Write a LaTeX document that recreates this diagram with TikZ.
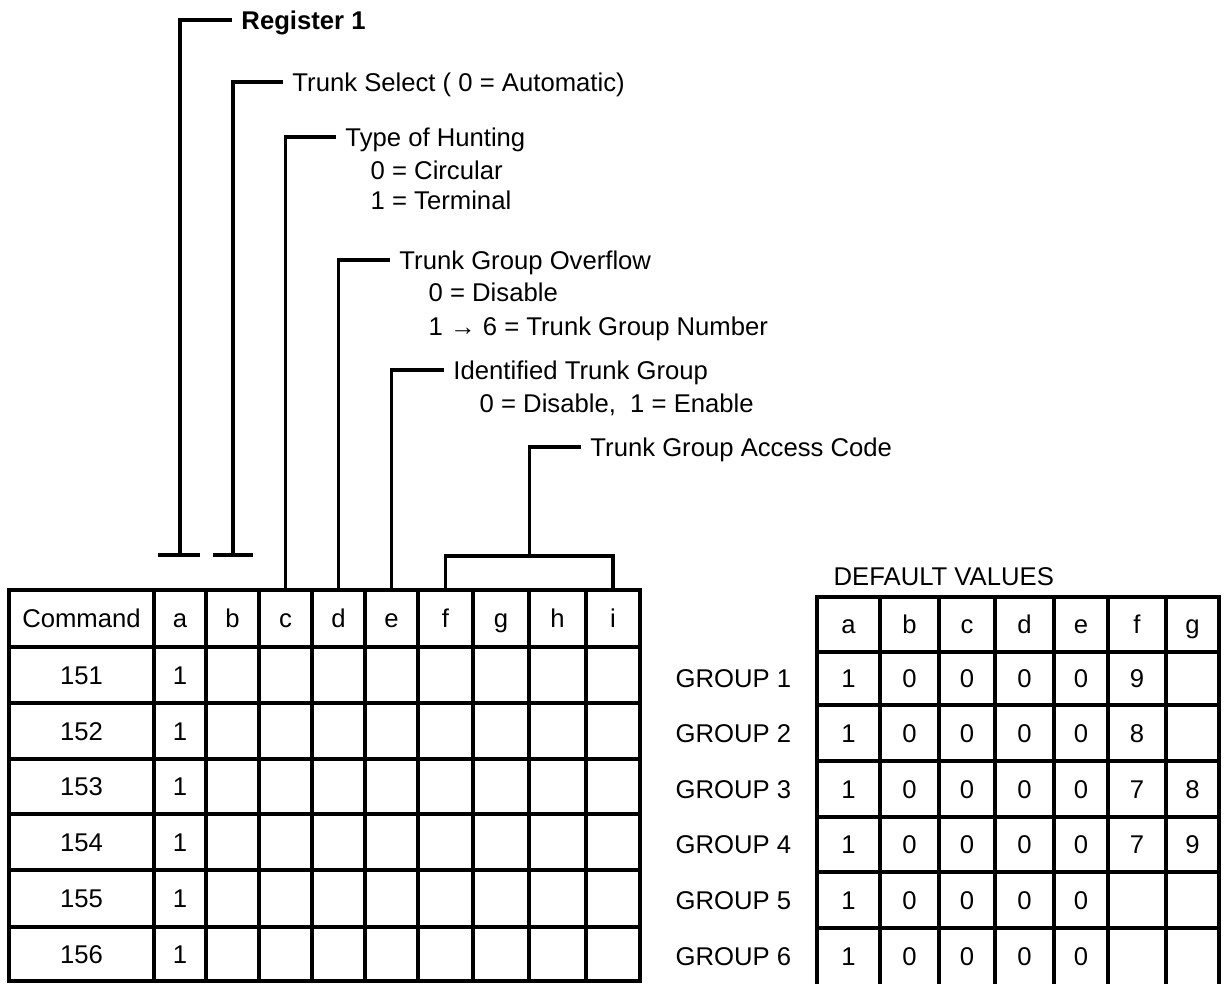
\documentclass[tikz,border=0pt]{standalone}
\usepackage{fontspec}
\setmainfont{Liberation Sans}
\usetikzlibrary{calc, positioning}
\tikzstyle{wire} = [line width=0.9pt]
\tikzstyle{note} = [anchor=west, inner sep=2.5pt, text height=5.2pt, text depth=0pt, font=\fontsize{7.3}{8.8}\selectfont]
\tikzstyle{subnote} = [anchor=west, inner sep=0pt, text height=5.2pt, text depth=0pt, font=\fontsize{7.3}{8.8}\selectfont]
\tikzstyle{cell} = [inner sep=0pt, text height=5.2pt, text depth=0pt, font=\fontsize{7.3}{8.8}\selectfont]

\begin{document}
\begin{tikzpicture}[x=0.01cm, y=-0.01cm]
  \useasboundingbox (0,0) rectangle (1229,984);

  % command table
  \draw[wire] (9,590) rectangle (640,981);
  \foreach \x in {154,206,259,312,365,418,473,529,586}
    \draw[wire] (\x,590) -- (\x,981);
  \foreach \y in {647,703,759,814,870,927}
    \draw[wire] (9,\y) -- (640,\y);
  \node (cmd) [cell] at (81.5,618.5) {Command};
  \foreach \c/\x in {a/180,b/232.5,c/285.5,d/338.5,e/391.5,f/445.5,g/501,h/557.5,i/613}
    \node (hd\c) [cell] at (\x,618.5) {\c};
  \foreach \n/\y in {151/675,152/731,153/786.5,154/842,155/898.5,156/954} {
    \node (cmd\n) [cell] at (81.5,\y) {\n};
    \node (reg\n) [cell] at (180,\y) {1};
  }

  % callouts
  \coordinate (bara) at (180,555);
  \coordinate (barb) at (233,555);
  \coordinate (topc) at (285.5,590);
  \coordinate (topd) at (338.5,590);
  \coordinate (tope) at (391.5,590);
  \coordinate (topf) at (445.5,590);
  \coordinate (topi) at (613,590);
  \coordinate (brace) at ($(topf)!0.5!(topi)+(0,-34)$);

  \node (reg) [note] at (232,20) {\bfseries Register 1};
  \node (sel) [note] at (283,82) {Trunk Select ( 0 = Automatic)};
  \node (hunt) [note] at (336,137) {Type of Hunting};
  \node (hunt0) [subnote] at (370,170) {0 = Circular};
  \node (hunt1) [subnote] at (370,200) {1 = Terminal};
  \node (over) [note] at (390,260) {Trunk Group Overflow};
  \node (over0) [subnote] at (428,292) {0 = Disable};
  \node (over1) [subnote] at (428,326) {1 → 6 = Trunk Group Number};
  \node (ident) [note] at (444,370) {Identified Trunk Group};
  \node (ident0) [subnote] at (479,403) {0 = Disable,\ \ 1 = Enable};
  \node (access) [note] at (581,447) {Trunk Group Access Code};

  \draw[wire] ($(bara)+(-22,0)$) -- ($(bara)+(20,0)$);
  \draw[wire] ($(barb)+(-20,0)$) -- ($(barb)+(20,0)$);
  \draw[wire] (bara) |- (reg.west);
  \draw[wire] (barb) |- (sel.west);
  \draw[wire] (topc) |- (hunt.west);
  \draw[wire] (topd) |- (over.west);
  \draw[wire] (tope) |- (ident.west);
  \draw[wire] (topf) -- ($(topf)+(0,-34)$) -| (topi);
  \draw[wire] (brace) |- (access.west);

  % default values table
  \node (dflt) [subnote] at (833,576) {DEFAULT VALUES};
  \draw[wire] (817,984) |- (1219,597) -- (1219,984);
  \foreach \x in {880,939,995,1054,1108,1166}
    \draw[wire] (\x,597) -- (\x,984);
  \foreach \y in {652,705,761,817,872,928}
    \draw[wire] (817,\y) -- (1219,\y);
  \foreach \c/\x in {a/848.5,b/909.5,c/967,d/1024.5,e/1081,f/1137,g/1192.5}
    \node (dv\c) [cell] at (\x,624.5) {\c};
  \foreach \r/\y in {1/678.5,2/733,3/789,4/844.5,5/900,6/956} {
    \node (grp\r) [subnote] at (675,\y) {GROUP \r};
    \node (ga\r) [cell] at (848.5,\y) {1};
    \node (gb\r) [cell] at (909.5,\y) {0};
    \node (gc\r) [cell] at (967,\y) {0};
    \node (gd\r) [cell] at (1024.5,\y) {0};
    \node (ge\r) [cell] at (1081,\y) {0};
  }
  \node (gf1) [cell] at (1137,678.5) {9};
  \node (gf2) [cell] at (1137,733) {8};
  \node (gf3) [cell] at (1137,789) {7};
  \node (gf4) [cell] at (1137,844.5) {7};
  \node (gg3) [cell] at (1192.5,789) {8};
  \node (gg4) [cell] at (1192.5,844.5) {9};
\end{tikzpicture}
\end{document}
